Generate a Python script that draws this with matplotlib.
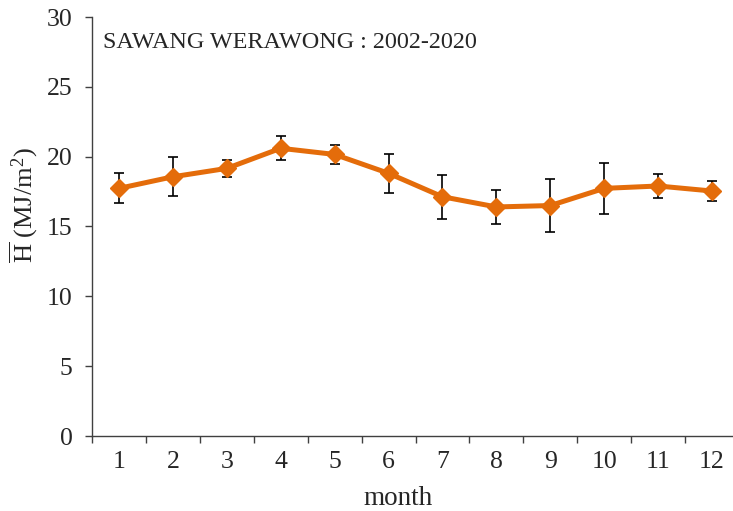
import matplotlib
matplotlib.use("Agg")
import matplotlib.pyplot as plt
import numpy as np

months = [1, 2, 3, 4, 5, 6, 7, 8, 9, 10, 11, 12]
h_mean = [17.73, 18.56, 19.16, 20.60, 20.16, 18.81, 17.13, 16.40, 16.50, 17.73, 17.90, 17.54]
h_err = [1.07, 1.39, 0.60, 0.86, 0.65, 1.38, 1.56, 1.20, 1.87, 1.85, 0.84, 0.73]
station = "SAWANG WERAWONG : 2002-2020"

plt.rcParams["font.family"] = ["Liberation Serif", "DejaVu Serif"]
plt.rcParams["mathtext.fontset"] = "custom"
plt.rcParams["mathtext.rm"] = "Liberation Serif"
plt.rcParams["mathtext.it"] = "Liberation Serif:italic"

fig = plt.figure(figsize=(7.33, 5.11), dpi=100)
W, H = 733, 511
ax = fig.add_axes([92 / W, (H - 436) / H, (739 - 92) / W, (436 - 17) / H])

orange = "#E46C0A"
ax.errorbar(months, h_mean, yerr=h_err, fmt="none", ecolor="black",
            elinewidth=1.2, capsize=3.9, capthick=1.2, zorder=2)
ax.plot(months, h_mean, color=orange, lw=3.6, marker="D", ms=9.5,
        markerfacecolor=orange, markeredgecolor=orange, zorder=3)

ax.set_xlim(0.5, 12.5)
ax.set_ylim(0, 30)
ax.set_yticks(np.arange(0, 31, 5))
ax.set_xticks(months)
ax.set_xticks(np.arange(0.5, 12.6, 1), minor=True)

spine_c = "#404040"
for s in ["top", "right"]:
    ax.spines[s].set_visible(False)
for s in ["left", "bottom"]:
    ax.spines[s].set_color(spine_c)
    ax.spines[s].set_linewidth(1.0)

ax.tick_params(axis="x", which="major", length=0, pad=11, labelsize=18.5, colors="#262626")
ax.tick_params(axis="x", which="minor", length=5, width=1.0, color=spine_c, direction="out")
ax.tick_params(axis="y", which="major", length=5, width=1.0, color=spine_c, direction="out",
               pad=9, labelsize=18.5, labelcolor="#262626")

ax.set_xlabel("month", fontsize=19.5, color="#262626")
ax.xaxis.set_label_coords((398 - 92) / 647, -0.12)
ax.set_ylabel(r"$\overline{\mathrm{H}}$ (MJ/m$^{2}$)", fontsize=19, color="#262626")
ax.yaxis.set_label_coords(-0.080, 0.55)

ax.text((103 - 92) / 647, (436 - 48) / 419, station,
        transform=ax.transAxes, fontsize=17.4, color="#262626", va="baseline", ha="left")

fig.savefig("out.png", dpi=100)
